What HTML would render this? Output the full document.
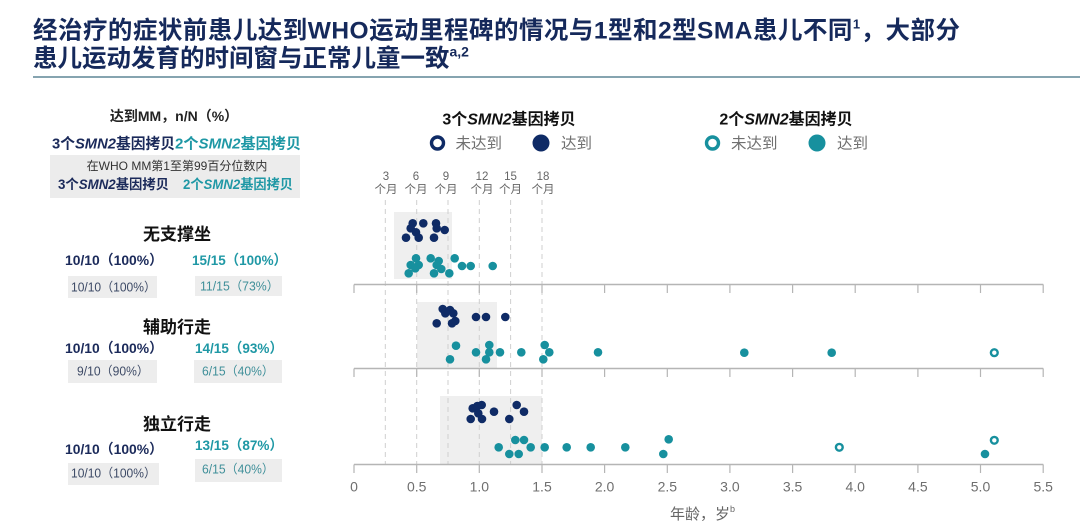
<!DOCTYPE html>
<html>
<head>
<meta charset="utf-8">
<style>
html,body{margin:0;padding:0;background:#fff;}
body{width:1080px;height:525px;overflow:hidden;}
svg{display:block;}
text{font-family:"Liberation Sans","Noto Sans CJK SC",sans-serif;}
</style>
</head>
<body>
<svg width="1080" height="525" viewBox="0 0 1080 525" xmlns="http://www.w3.org/2000/svg">
  <!-- Title -->
  <g fill="#15295b" font-weight="bold">
    <text x="33" y="38.5" font-size="24.5" textLength="927" lengthAdjust="spacing">经治疗的症状前患儿达到WHO运动里程碑的情况与1型和2型SMA患儿不同<tspan font-size="13" dy="-10">1</tspan><tspan dy="10">，大部分</tspan></text>
    <text x="33" y="66.5" font-size="24.5">患儿运动发育的时间窗与正常儿童一致<tspan font-size="14" dy="-10">a,2</tspan></text>
  </g>
  <line x1="33" y1="77" x2="1080" y2="77" stroke="#5f8595" stroke-width="1.5"/>

  <!-- Left table -->
  <text x="174" y="121" font-size="14" font-weight="bold" fill="#222" text-anchor="middle">达到MM，n/N（%）</text>
  <text x="52" y="148.5" font-size="15" font-weight="bold" fill="#1b2a5a" textLength="123" lengthAdjust="spacingAndGlyphs">3个<tspan font-style="italic">SMN2</tspan>基因拷贝</text>
  <text x="175" y="148.5" font-size="15" font-weight="bold" fill="#1f98a5" textLength="126" lengthAdjust="spacingAndGlyphs">2个<tspan font-style="italic">SMN2</tspan>基因拷贝</text>
  <rect x="50" y="155" width="250" height="43" fill="#ececec"/>
  <text x="177" y="170" font-size="12" fill="#333" text-anchor="middle">在WHO MM第1至第99百分位数内</text>
  <text x="58" y="189" font-size="13.5" font-weight="bold" fill="#1b2a5a" textLength="111" lengthAdjust="spacingAndGlyphs">3个<tspan font-style="italic">SMN2</tspan>基因拷贝</text>
  <text x="183" y="189" font-size="13.5" font-weight="bold" fill="#1f98a5" textLength="110" lengthAdjust="spacingAndGlyphs">2个<tspan font-style="italic">SMN2</tspan>基因拷贝</text>

  <!-- Panel 1 left -->
  <text x="177" y="240" font-size="17" font-weight="bold" fill="#111" text-anchor="middle">无支撑坐</text>
  <text x="65" y="265" font-size="14" font-weight="bold" fill="#1b2a5a" textLength="98" lengthAdjust="spacingAndGlyphs">10/10（100%）</text>
  <text x="192" y="265" font-size="14" font-weight="bold" fill="#1f98a5" textLength="95" lengthAdjust="spacingAndGlyphs">15/15（100%）</text>
  <rect x="68" y="276" width="89" height="22" fill="#ededed"/>
  <rect x="195" y="276" width="87" height="20" fill="#ededed"/>
  <text x="71" y="291.5" font-size="12.5" fill="#3d4a66" textLength="85" lengthAdjust="spacingAndGlyphs">10/10（100%）</text>
  <text x="200" y="290.5" font-size="12.5" fill="#3f8f99" textLength="79" lengthAdjust="spacingAndGlyphs">11/15（73%）</text>

  <!-- Panel 2 left -->
  <text x="177" y="333" font-size="17" font-weight="bold" fill="#111" text-anchor="middle">辅助行走</text>
  <text x="65" y="353" font-size="14" font-weight="bold" fill="#1b2a5a" textLength="98" lengthAdjust="spacingAndGlyphs">10/10（100%）</text>
  <text x="195" y="353" font-size="14" font-weight="bold" fill="#1f98a5" textLength="88" lengthAdjust="spacingAndGlyphs">14/15（93%）</text>
  <rect x="68" y="360" width="89" height="23" fill="#ededed"/>
  <rect x="194" y="360" width="88" height="23" fill="#ededed"/>
  <text x="77" y="375.5" font-size="12.5" fill="#3d4a66" textLength="72" lengthAdjust="spacingAndGlyphs">9/10（90%）</text>
  <text x="202" y="375.5" font-size="12.5" fill="#3f8f99" textLength="72" lengthAdjust="spacingAndGlyphs">6/15（40%）</text>

  <!-- Panel 3 left -->
  <text x="177" y="430" font-size="17" font-weight="bold" fill="#111" text-anchor="middle">独立行走</text>
  <text x="65" y="454" font-size="14" font-weight="bold" fill="#1b2a5a" textLength="98" lengthAdjust="spacingAndGlyphs">10/10（100%）</text>
  <text x="195" y="450" font-size="14" font-weight="bold" fill="#1f98a5" textLength="88" lengthAdjust="spacingAndGlyphs">13/15（87%）</text>
  <rect x="68" y="463" width="91" height="22" fill="#ededed"/>
  <rect x="195" y="459" width="87" height="23" fill="#ededed"/>
  <text x="71" y="477.5" font-size="12.5" fill="#3d4a66" textLength="85" lengthAdjust="spacingAndGlyphs">10/10（100%）</text>
  <text x="202" y="473.5" font-size="12.5" fill="#3f8f99" textLength="72" lengthAdjust="spacingAndGlyphs">6/15（40%）</text>

  <!-- Legend -->
  <text x="509" y="124.5" font-size="16" font-weight="bold" fill="#111" text-anchor="middle">3个<tspan font-style="italic">SMN2</tspan>基因拷贝</text>
  <text x="786" y="124.5" font-size="16" font-weight="bold" fill="#111" text-anchor="middle">2个<tspan font-style="italic">SMN2</tspan>基因拷贝</text>
  <circle cx="437.5" cy="143" r="6" fill="#fff" stroke="#0f2b66" stroke-width="3.4"/>
  <text x="455.5" y="148.5" font-size="15.5" fill="#707070">未达到</text>
  <circle cx="541" cy="143" r="8.5" fill="#0f2b66"/>
  <text x="561" y="148.5" font-size="15.5" fill="#707070">达到</text>
  <circle cx="712.5" cy="143" r="6" fill="#fff" stroke="#17909e" stroke-width="3.4"/>
  <text x="731" y="148.5" font-size="15.5" fill="#707070">未达到</text>
  <circle cx="817" cy="143" r="8.5" fill="#17909e"/>
  <text x="837" y="148.5" font-size="15.5" fill="#707070">达到</text>

  <!-- Month labels -->
  <g font-size="11.5" fill="#666" text-anchor="middle">
    <text x="386" y="180">3</text><text x="386" y="193">个月</text>
    <text x="416" y="180">6</text><text x="416" y="193">个月</text>
    <text x="446" y="180">9</text><text x="446" y="193">个月</text>
    <text x="482" y="180">12</text><text x="482" y="193">个月</text>
    <text x="510.5" y="180">15</text><text x="510.5" y="193">个月</text>
    <text x="543" y="180">18</text><text x="543" y="193">个月</text>
  </g>

  <!-- Shaded WHO windows -->
  <rect x="394" y="212" width="58" height="67" fill="#efefef"/>
  <rect x="417" y="302" width="80" height="66.5" fill="#efefef"/>
  <rect x="440" y="396" width="102" height="68.5" fill="#efefef"/>

  <!-- Dashed month lines -->
  <g stroke="#cfcfcf" stroke-width="1" stroke-dasharray="5,4">
    <line x1="385.3" y1="200" x2="385.3" y2="464"/>
    <line x1="416.7" y1="200" x2="416.7" y2="464"/>
    <line x1="448" y1="200" x2="448" y2="464"/>
    <line x1="479.3" y1="200" x2="479.3" y2="464"/>
    <line x1="510.6" y1="200" x2="510.6" y2="464"/>
    <line x1="542" y1="200" x2="542" y2="464"/>
  </g>

  <!-- Axes -->
  <g stroke="#b5b5b5" stroke-width="1.5">
    <line x1="354" y1="284.5" x2="1043.3" y2="284.5"/>
    <line x1="354" y1="368.5" x2="1043.3" y2="368.5"/>
    <line x1="354" y1="464.5" x2="1043.3" y2="464.5"/>
  </g>
  <g stroke="#b5b5b5" stroke-width="1.2">
    <line x1="354" y1="284.5" x2="354" y2="293"/><line x1="416.7" y1="284.5" x2="416.7" y2="293"/><line x1="479.3" y1="284.5" x2="479.3" y2="293"/><line x1="542" y1="284.5" x2="542" y2="293"/><line x1="604.6" y1="284.5" x2="604.6" y2="293"/><line x1="667.3" y1="284.5" x2="667.3" y2="293"/><line x1="729.9" y1="284.5" x2="729.9" y2="293"/><line x1="792.6" y1="284.5" x2="792.6" y2="293"/><line x1="855.2" y1="284.5" x2="855.2" y2="293"/><line x1="917.9" y1="284.5" x2="917.9" y2="293"/><line x1="980.5" y1="284.5" x2="980.5" y2="293"/><line x1="1043.2" y1="284.5" x2="1043.2" y2="293"/>
    <line x1="354" y1="368.5" x2="354" y2="377"/><line x1="416.7" y1="368.5" x2="416.7" y2="377"/><line x1="479.3" y1="368.5" x2="479.3" y2="377"/><line x1="542" y1="368.5" x2="542" y2="377"/><line x1="604.6" y1="368.5" x2="604.6" y2="377"/><line x1="667.3" y1="368.5" x2="667.3" y2="377"/><line x1="729.9" y1="368.5" x2="729.9" y2="377"/><line x1="792.6" y1="368.5" x2="792.6" y2="377"/><line x1="855.2" y1="368.5" x2="855.2" y2="377"/><line x1="917.9" y1="368.5" x2="917.9" y2="377"/><line x1="980.5" y1="368.5" x2="980.5" y2="377"/><line x1="1043.2" y1="368.5" x2="1043.2" y2="377"/>
    <line x1="354" y1="464.5" x2="354" y2="473"/><line x1="416.7" y1="464.5" x2="416.7" y2="473"/><line x1="479.3" y1="464.5" x2="479.3" y2="473"/><line x1="542" y1="464.5" x2="542" y2="473"/><line x1="604.6" y1="464.5" x2="604.6" y2="473"/><line x1="667.3" y1="464.5" x2="667.3" y2="473"/><line x1="729.9" y1="464.5" x2="729.9" y2="473"/><line x1="792.6" y1="464.5" x2="792.6" y2="473"/><line x1="855.2" y1="464.5" x2="855.2" y2="473"/><line x1="917.9" y1="464.5" x2="917.9" y2="473"/><line x1="980.5" y1="464.5" x2="980.5" y2="473"/><line x1="1043.2" y1="464.5" x2="1043.2" y2="473"/>
  </g>
  <g font-size="14" fill="#6f6f6f" text-anchor="middle">
    <text x="354" y="491.5">0</text>
    <text x="416.7" y="491.5">0.5</text>
    <text x="479.3" y="491.5">1.0</text>
    <text x="542" y="491.5">1.5</text>
    <text x="604.6" y="491.5">2.0</text>
    <text x="667.3" y="491.5">2.5</text>
    <text x="729.9" y="491.5">3.0</text>
    <text x="792.6" y="491.5">3.5</text>
    <text x="855.2" y="491.5">4.0</text>
    <text x="917.9" y="491.5">4.5</text>
    <text x="980.5" y="491.5">5.0</text>
    <text x="1043.2" y="491.5">5.5</text>
  </g>
  <text x="670" y="519" font-size="15" fill="#666">年龄，岁<tspan font-size="9" dy="-7">b</tspan></text>

  <!-- Panel 1 dots -->
  <g fill="#0f2b66">
    <circle cx="412.7" cy="223.3" r="4.3"/><circle cx="423.3" cy="223.3" r="4.3"/><circle cx="436" cy="223.3" r="4.3"/>
    <circle cx="410.7" cy="228.3" r="4.3"/><circle cx="416" cy="232.3" r="4.3"/><circle cx="436.7" cy="228.3" r="4.3"/>
    <circle cx="444.7" cy="230" r="4.3"/><circle cx="406" cy="237.7" r="4.3"/><circle cx="418.7" cy="237.7" r="4.3"/>
    <circle cx="434" cy="237.7" r="4.3"/>
  </g>
  <g fill="#17909e">
    <circle cx="416" cy="258.3" r="4.3"/><circle cx="430.7" cy="258.3" r="4.3"/><circle cx="438.7" cy="261" r="4.3"/>
    <circle cx="454.7" cy="258.3" r="4.3"/><circle cx="410.7" cy="265" r="4.3"/><circle cx="418.7" cy="265" r="4.3"/>
    <circle cx="436.7" cy="265" r="4.3"/><circle cx="462" cy="266" r="4.3"/><circle cx="470.7" cy="266" r="4.3"/>
    <circle cx="492.7" cy="266" r="4.3"/><circle cx="408.7" cy="273.3" r="4.3"/><circle cx="415.3" cy="268.3" r="4.3"/>
    <circle cx="434" cy="273.3" r="4.3"/><circle cx="441.3" cy="269" r="4.3"/><circle cx="449.3" cy="273.3" r="4.3"/>
  </g>

  <!-- Panel 2 dots -->
  <g fill="#0f2b66">
    <circle cx="442.7" cy="309" r="4.3"/><circle cx="450" cy="310" r="4.3"/><circle cx="445.3" cy="313.3" r="4.3"/>
    <circle cx="453.3" cy="313.3" r="4.3"/><circle cx="455.3" cy="321" r="4.3"/><circle cx="436.7" cy="323.3" r="4.3"/>
    <circle cx="452" cy="323.3" r="4.3"/><circle cx="476" cy="317" r="4.3"/><circle cx="486" cy="317" r="4.3"/>
    <circle cx="505.3" cy="317" r="4.3"/>
  </g>
  <g fill="#17909e">
    <circle cx="456" cy="345.7" r="4.3"/><circle cx="489.3" cy="345" r="4.3"/><circle cx="544.7" cy="345" r="4.3"/>
    <circle cx="476" cy="352.3" r="4.3"/><circle cx="489.3" cy="352.3" r="4.3"/><circle cx="500" cy="352.3" r="4.3"/>
    <circle cx="521.3" cy="352.3" r="4.3"/><circle cx="549.3" cy="352.3" r="4.3"/><circle cx="598" cy="352.3" r="4.3"/>
    <circle cx="450" cy="359.3" r="4.3"/><circle cx="486" cy="359.3" r="4.3"/><circle cx="543.3" cy="359.3" r="4.3"/>
    <circle cx="744.3" cy="352.7" r="4.3"/><circle cx="831.7" cy="352.7" r="4.3"/>
  </g>
  <circle cx="994.3" cy="352.7" r="3.4" fill="#fff" stroke="#17909e" stroke-width="2.4"/>

  <!-- Panel 3 dots -->
  <g fill="#0f2b66">
    <circle cx="472.7" cy="408.3" r="4.3"/><circle cx="477.3" cy="406" r="4.3"/><circle cx="481.7" cy="405" r="4.3"/>
    <circle cx="478.3" cy="413.3" r="4.3"/><circle cx="494" cy="411.7" r="4.3"/><circle cx="516.7" cy="405" r="4.3"/>
    <circle cx="524" cy="411.7" r="4.3"/><circle cx="470.7" cy="419" r="4.3"/><circle cx="482" cy="419" r="4.3"/>
    <circle cx="509.3" cy="419" r="4.3"/>
  </g>
  <g fill="#17909e">
    <circle cx="515.3" cy="440" r="4.3"/><circle cx="524" cy="440" r="4.3"/><circle cx="668.7" cy="439.3" r="4.3"/>
    <circle cx="498.7" cy="447.3" r="4.3"/><circle cx="530.7" cy="447.3" r="4.3"/><circle cx="544.7" cy="447.3" r="4.3"/>
    <circle cx="566.7" cy="447.3" r="4.3"/><circle cx="590.7" cy="447.3" r="4.3"/><circle cx="625.3" cy="447.3" r="4.3"/>
    <circle cx="509.3" cy="454" r="4.3"/><circle cx="518.7" cy="454" r="4.3"/><circle cx="663.3" cy="454" r="4.3"/>
    <circle cx="985" cy="454" r="4.3"/>
  </g>
  <circle cx="839.3" cy="447.3" r="3.4" fill="#fff" stroke="#17909e" stroke-width="2.4"/>
  <circle cx="994.3" cy="440.3" r="3.4" fill="#fff" stroke="#17909e" stroke-width="2.4"/>
</svg>
</body>
</html>
